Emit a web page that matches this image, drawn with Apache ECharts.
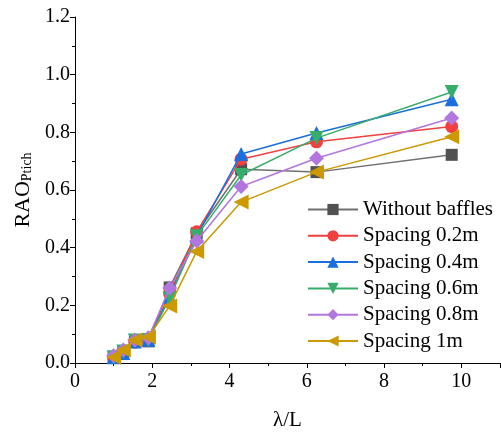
<!DOCTYPE html>
<html><head><meta charset="utf-8">
<script src="https://cdn.jsdelivr.net/npm/echarts@6/dist/echarts.min.js"></script>
<style>html,body{margin:0;padding:0;background:#fff}#c{width:501px;height:436px}</style>
</head><body><div id="c"></div>
<script>
const xValues = [1.0, 1.25, 1.55, 1.9, 2.45, 3.15, 4.3, 6.25, 9.75];
const seriesNames = ['Without baffles', 'Spacing 0.2m', 'Spacing 0.4m', 'Spacing 0.6m', 'Spacing 0.8m', 'Spacing 1m'];
const withoutBaffles = [0.02, 0.04, 0.075, 0.075, 0.262, 0.45, 0.672, 0.662, 0.722];
const spacing02 = [0.02, 0.04, 0.072, 0.078, 0.24, 0.455, 0.707, 0.767, 0.82];
const spacing04 = [0.02, 0.035, 0.075, 0.08, 0.23, 0.44, 0.725, 0.798, 0.915];
const spacing06 = [0.02, 0.04, 0.078, 0.08, 0.225, 0.44, 0.652, 0.78, 0.94];
const spacing08 = [0.025, 0.045, 0.08, 0.088, 0.26, 0.423, 0.612, 0.71, 0.85];
const spacing1 = [0.02, 0.045, 0.08, 0.09, 0.198, 0.387, 0.558, 0.662, 0.785];

const allValues = [withoutBaffles, spacing02, spacing04, spacing06, spacing08, spacing1];
const colors = ['#515151', '#F14040', '#1A6FDF', '#37AD6B', '#B177DE', '#CC9900'];
const lineColors = ['#707070', '#F14040', '#1A6FDF', '#37AD6B', '#B177DE', '#CC9900'];
const symbols = ['rect', 'circle', 'triangle', 'triangle', 'diamond', 'triangle'];
const rotates = [0, 0, 0, 180, 0, 90];
const sizes = [12, 13, 14, 14, 15, 15];
const font = '"Liberation Serif", "Times New Roman", serif';

const chart = echarts.init(document.getElementById('c'), null, {renderer: 'canvas'});
chart.setOption({
  animation: false,
  backgroundColor: '#fff',
  grid: {left: 75, right: 1, top: 17, bottom: 73, containLabel: false},
  legend: {
    orient: 'vertical', left: 302, top: 194,
    itemWidth: 50, itemHeight: 14, itemGap: 5.3,
    textStyle: {fontFamily: font, fontSize: 21, lineHeight: 20, color: '#000'},
    data: seriesNames
  },
  xAxis: {
    type: 'value', min: 0, max: 11, interval: 2,
    name: 'λ/L', nameLocation: 'middle', nameGap: 47,
    nameTextStyle: {fontFamily: font, fontSize: 21, color: '#000'},
    axisLine: {lineStyle: {color: '#000', width: 1}},
    axisTick: {length: 5, lineStyle: {color: '#000'}},
    minorTick: {show: true, splitNumber: 2, length: 3, lineStyle: {color: '#000'}},
    splitLine: {show: false},
    axisLabel: {fontFamily: font, fontSize: 20, color: '#000', margin: 9, showMaxLabel: false,
      formatter: v => (v > 10 ? '' : String(v))}
  },
  yAxis: {
    type: 'value', min: 0, max: 1.2, interval: 0.2,
    name: 'RAO{sub|Ptich}', nameLocation: 'middle', nameGap: 39, nameRotate: 90,
    nameTextStyle: {fontFamily: font, fontSize: 22, color: '#000',
      rich: {sub: {fontFamily: font, fontSize: 14, color: '#000', verticalAlign: 'bottom', padding: [8, 0, 0, 0]}}},
    axisLine: {show: true, lineStyle: {color: '#000', width: 1}},
    axisTick: {show: true, length: 5, lineStyle: {color: '#000'}},
    minorTick: {show: true, splitNumber: 2, length: 3, lineStyle: {color: '#000'}},
    splitLine: {show: false},
    axisLabel: {fontFamily: font, fontSize: 20, color: '#000', margin: 5,
      formatter: v => v.toFixed(1)}
  },
  series: seriesNames.map((name, i) => ({
    name: name, type: 'line',
    data: xValues.map((x, j) => [x, allValues[i][j]]),
    symbol: symbols[i], symbolRotate: rotates[i], symbolSize: sizes[i],
    showAllSymbol: true,
    lineStyle: {color: lineColors[i], width: 1.5},
    itemStyle: {color: colors[i], borderWidth: 0},
    z: 2 + i
  }))
});
</script></body></html>
